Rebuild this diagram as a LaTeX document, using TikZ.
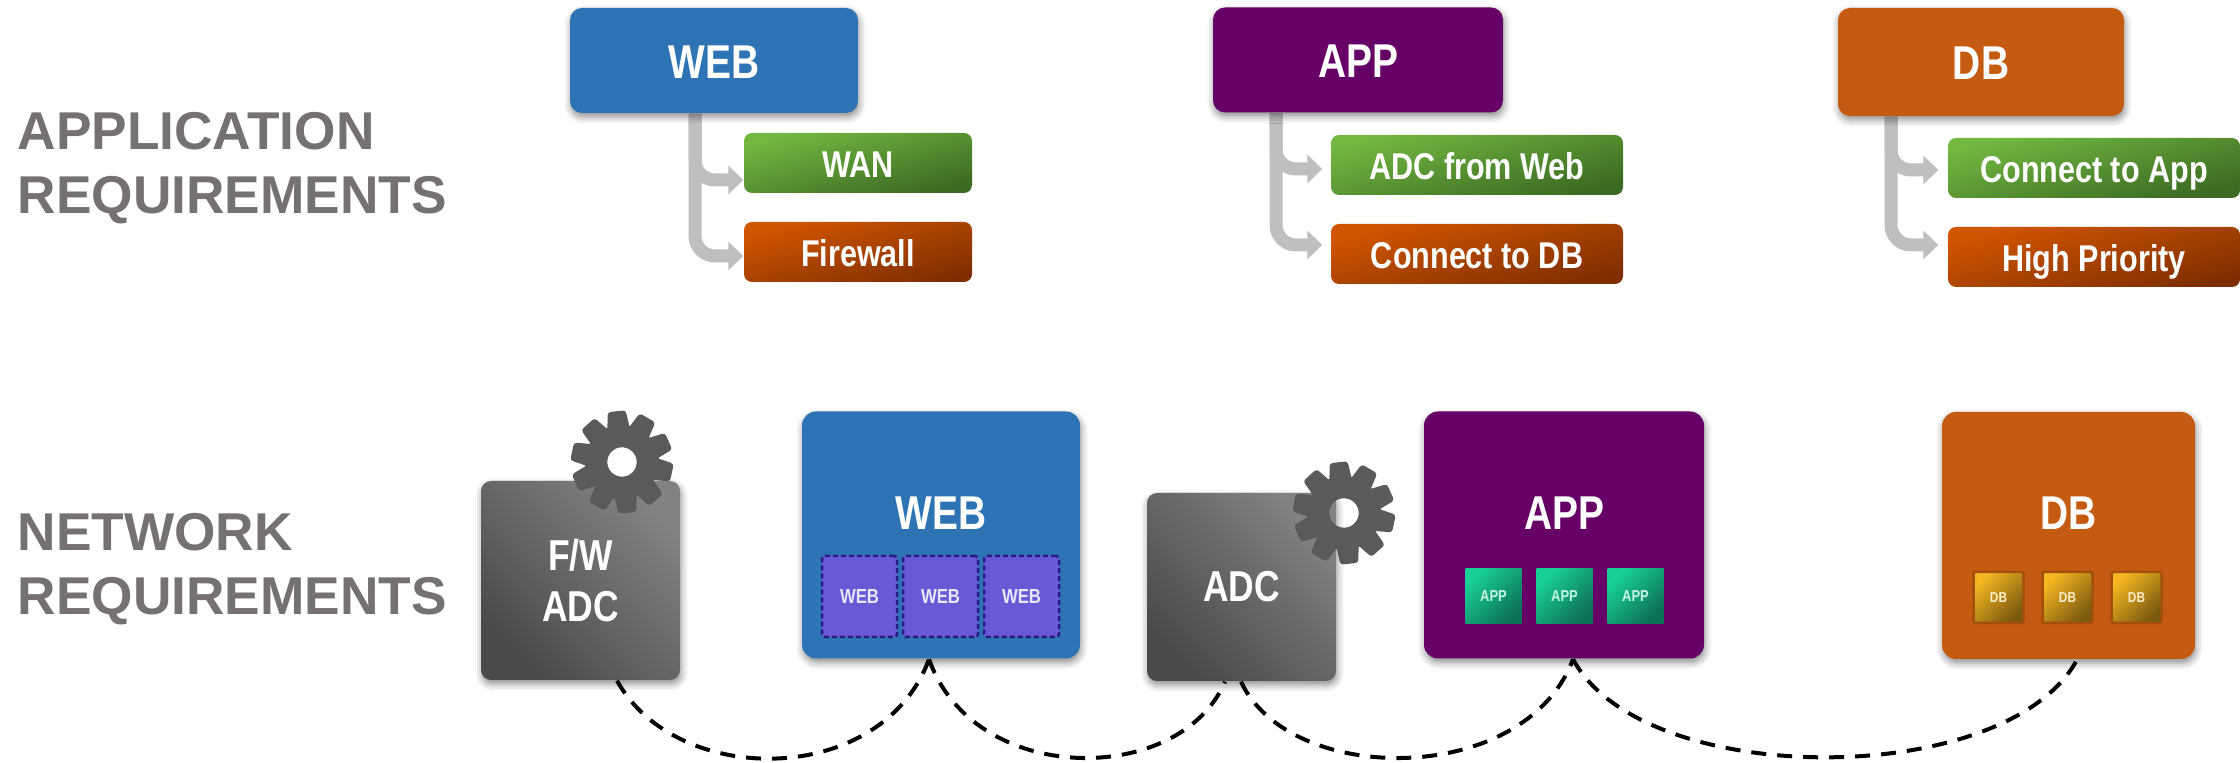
\documentclass[tikz,border=0pt]{standalone}
\usepackage{fontspec}
\setmainfont{Liberation Sans}
\newfontfamily\narrowfont{Liberation Sans}[FakeStretch=0.82]
\usepackage{xcolor}
\usepackage{tikz}
\usetikzlibrary{backgrounds, positioning, shadows, shadows.blur, arrows.meta}

\definecolor{webblue}{HTML}{2E74B5}
\definecolor{appviolet}{HTML}{660066}
\definecolor{dborange}{HTML}{C55A11}
\definecolor{reqgray}{HTML}{767171}
\definecolor{arrowgray}{HTML}{BFBFBF}
\definecolor{coggray}{HTML}{5A5A5A}
\definecolor{greenlight}{HTML}{72B841}
\definecolor{greendark}{HTML}{3C6A22}
\definecolor{redlight}{HTML}{D25600}
\definecolor{reddark}{HTML}{7F2E00}
\definecolor{graylight}{HTML}{828282}
\definecolor{graydark}{HTML}{4A4A4A}
\definecolor{podviolet}{HTML}{685AD6}
\definecolor{podline}{HTML}{2A1A85}
\definecolor{teallight}{HTML}{18D095}
\definecolor{tealdark}{HTML}{0D7058}
\definecolor{goldlight}{HTML}{F6B822}
\definecolor{golddark}{HTML}{7A590E}
\definecolor{podrim}{HTML}{A4500C}

\begin{document}
\begin{tikzpicture}[node distance=.89cm,
        softshadow/.style={blur shadow={shadow xshift=.01cm, shadow yshift=-.04cm, shadow blur radius=.07cm, shadow opacity=45}},
        tierbox/.style={softshadow, fill=#1, rounded corners=.12cm, inner sep=0, text=white, minimum height=1.05cm, text height=.36cm, text depth=0, font=\narrowfont\bfseries\fontsize{13.5}{16}\selectfont},
        netbox/.style={softshadow, fill=#1, rounded corners=.14cm, inner sep=0, minimum height=2.47cm},
        nettitle/.style={inner sep=0, text=white, text height=.35cm, text depth=0, font=\narrowfont\bfseries\fontsize{13.5}{16}\selectfont},
        greenbox/.style={shade, top color=greenlight, bottom color=greendark, shading angle=15, rounded corners=.08cm, inner sep=0, text=white, minimum height=.6cm, text height=.3cm, text depth=0, font=\narrowfont\bfseries\fontsize{10.6}{12}\selectfont},
        redbox/.style={greenbox, top color=redlight, bottom color=reddark, shading angle=15},
        adcbox/.style={softshadow, shade, top color=graylight, bottom color=graydark, shading angle=-45, rounded corners=.1cm, inner sep=0, text=white, align=center, minimum height=1.88cm, font=\narrowfont\bfseries\fontsize{12.3}{14.5}\selectfont},
        webpod/.style={fill=podviolet, draw=podline, dash pattern=on .05cm off .03cm, line width=.025cm, rounded corners=.03cm, inner sep=0, minimum width=.75cm, minimum height=.81cm, text=white!85!podviolet, font=\narrowfont\bfseries\fontsize{5.8}{7}\selectfont},
        apppod/.style={shade, top color=teallight, bottom color=tealdark, shading angle=45, inner sep=0, minimum width=.56cm, minimum height=.55cm, text=white!75!teallight, font=\narrowfont\bfseries\fontsize{4.5}{5}\selectfont},
        dbpod/.style={shade, top color=goldlight, bottom color=golddark, shading angle=45, draw=podrim, line width=.025cm, rounded corners=.02cm, inner sep=0, minimum width=.5cm, minimum height=.51cm, text=white!75!goldlight, font=\narrowfont\bfseries\fontsize{4.1}{5}\selectfont},
        sidetext/.style={anchor=west, align=left, inner sep=0, text=reqgray, font=\bfseries\fontsize{15.15}{18.2}\selectfont},
        reqarrow/.style={draw=arrowgray, line width=.13cm, rounded corners=.2cm, -{Triangle[length=.15cm, width=.28cm]}},
        netlink/.style={black, line width=.04cm, dash pattern=on .15cm off .11cm},
        cog/.pic={
            \fill [coggray, even odd rule] (0,0) circle (.37) (0,0) circle (.147);
            \foreach \toothangle in {6,42,...,330} {
                \fill [coggray, rotate=\toothangle, rounded corners=.03cm] (-.115,.31) -- (-.09,.51) -- (.09,.51) -- (.115,.31) -- cycle;
            }
        }]
        \useasboundingbox (0,0) rectangle (22.4,-7.63);

        \node (apprequirements) [sidetext] at (.17,-1.68) {APPLICATION\\REQUIREMENTS};
        \node (netrequirements) [sidetext] at (.17,-5.69) {NETWORK\\REQUIREMENTS};

        % Application row
        \node (webtier) [tierbox=webblue, minimum width=2.88cm] at (7.14,-.605) {WEB};
        \node (wan) [below of=webtier, xshift=1.44cm, yshift=-.135cm, greenbox, minimum width=2.28cm] {WAN};
        \node (firewall) [below of=wan, redbox, minimum width=2.28cm] {Firewall};

        \node (apptier) [tierbox=appviolet, minimum width=2.9cm] at (13.58,-.6) {APP};
        \node (adcfromweb) [below of=apptier, xshift=1.19cm, yshift=-.16cm, greenbox, minimum width=2.92cm] {ADC from Web};
        \node (connectdb) [below of=adcfromweb, redbox, minimum width=2.92cm] {Connect to DB};

        \node (dbtier) [tierbox=dborange, minimum width=2.86cm, minimum height=1.08cm] at (19.81,-.62) {DB};
        \node (connectapp) [below of=dbtier, xshift=1.13cm, yshift=-.17cm, greenbox, minimum width=2.92cm] {Connect to App};
        \node (highpriority) [below of=connectapp, redbox, minimum width=2.92cm] {High Priority};

        % Network row
        \node (fwadc) [adcbox, minimum width=1.99cm, minimum height=1.99cm] at (5.805,-5.805) {F/W\\ADC};
        \node (netweb) [netbox=webblue, minimum width=2.78cm] at (9.41,-5.35) {};
        \node (webtitle) [above of=netweb, node distance=.23cm, nettitle] {WEB};
        \node (webpodone) [below of=netweb, node distance=.615cm, xshift=-.815cm, webpod] {WEB};
        \node (webpodtwo) [right of=webpodone, node distance=.81cm, webpod] {WEB};
        \node (webpodthree) [right of=webpodtwo, node distance=.81cm, webpod] {WEB};

        \node (adc) [adcbox, minimum width=1.89cm] at (12.415,-5.87) {ADC};

        \node (netapp) [netbox=appviolet, minimum width=2.8cm] at (15.64,-5.35) {};
        \node (apptitle) [above of=netapp, node distance=.23cm, nettitle] {APP};
        \node (apppodone) [below of=netapp, node distance=.615cm, xshift=-.705cm, apppod] {APP};
        \node (apppodtwo) [right of=apppodone, node distance=.71cm, apppod] {APP};
        \node (apppodthree) [right of=apppodtwo, node distance=.71cm, apppod] {APP};

        \node (netdb) [netbox=dborange, minimum width=2.53cm] at (20.685,-5.355) {};
        \node (dbtitle) [above of=netdb, node distance=.23cm, nettitle] {DB};
        \node (dbpodone) [below of=netdb, node distance=.62cm, xshift=-.7cm, dbpod] {DB};
        \node (dbpodtwo) [right of=dbpodone, node distance=.69cm, dbpod] {DB};
        \node (dbpodthree) [right of=dbpodtwo, node distance=.69cm, dbpod] {DB};

        \pic (fwcog) at (6.22,-4.62) {cog};
        \pic (adccog) at (13.44,-5.13) {cog};

        % Lines
        \begin{scope}[on background layer]
            \draw [reqarrow] ([xshift=-.19cm]webtier.south) |- ([yshift=-.17cm]wan.west);
            \draw [reqarrow] ([xshift=-.19cm]webtier.south) |- ([yshift=-.04cm]firewall.west);
            \draw [reqarrow] ([xshift=-.82cm]apptier.south) |- ([xshift=-.08cm, yshift=-.04cm]adcfromweb.west);
            \draw [reqarrow] ([xshift=-.82cm]apptier.south) |- ([xshift=-.08cm, yshift=.09cm]connectdb.west);
            \draw [reqarrow] ([xshift=-.9cm]dbtier.south) |- ([xshift=-.09cm, yshift=-.02cm]connectapp.west);
            \draw [reqarrow] ([xshift=-.9cm]dbtier.south) |- ([xshift=-.09cm, yshift=.12cm]highpriority.west);
        \end{scope}

        \draw [netlink] ([xshift=.365cm]fwadc.south) .. controls +(.6,-1.08) and +(-.47,-1.28) .. ([xshift=-.12cm]netweb.south);
        \draw [netlink] ([xshift=-.12cm]netweb.south) .. controls +(.45,-1.28) and +(-.45,-1.05) .. ([xshift=-.165cm]adc.south);
        \draw [netlink] ([xshift=-.005cm]adc.south) .. controls +(.49,-1.05) and +(-.48,-1.28) .. ([xshift=.09cm]netapp.south);
        \draw [netlink] ([xshift=.09cm]netapp.south) .. controls +(.7,-1.31) and +(-.7,-1.3) .. ([xshift=.085cm]netdb.south);
\end{tikzpicture}
\end{document}
